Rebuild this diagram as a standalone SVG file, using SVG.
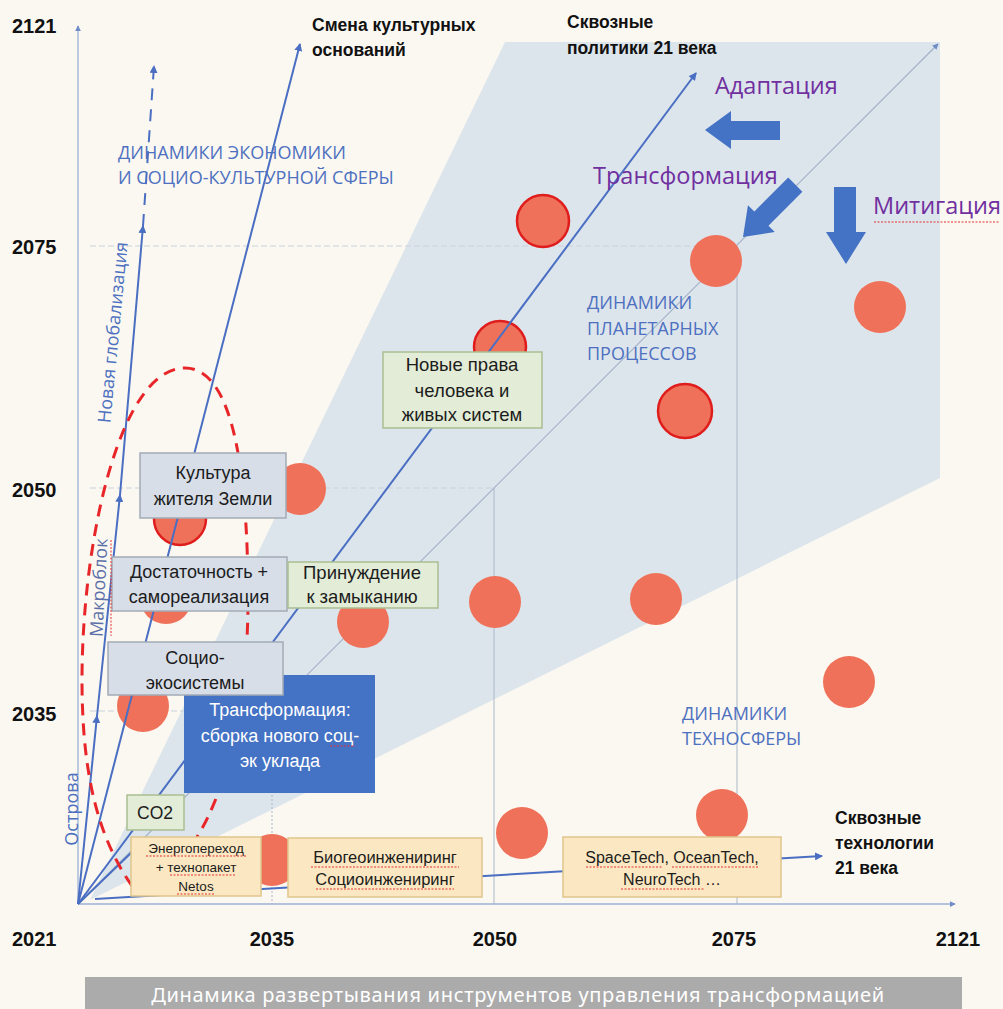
<svg xmlns="http://www.w3.org/2000/svg" width="1003" height="1009" viewBox="0 0 1003 1009">
  <style>
    .bg { fill: #fbf8f1; }
    .zone { fill: #dde5ec; }
    .axis { stroke: #9db1d6; stroke-width: 1.3; fill: none; }
    .grid { stroke: #c9d2dc; stroke-width: 1.2; fill: none; }
    .gridv { stroke: #aab8cc; stroke-width: 1; fill: none; }
    .diag { stroke: #a3b2c8; stroke-width: 1.2; fill: none; }
    .flow { stroke: #4a6ec2; stroke-width: 2; fill: none; }
    .loop { stroke: #e8262a; stroke-width: 3; fill: none; stroke-dasharray: 12 8; }
    .dot { fill: #ef7159; }
    .dot-ring { fill: #ef7159; stroke: #e01d1d; stroke-width: 2.5; }
    .box-grey { fill: #d7dee8; stroke: #a3abb5; stroke-width: 1.5; }
    .box-green { fill: #e3ecd7; stroke: #a9be91; stroke-width: 1.5; }
    .box-yellow { fill: #fbe8c2; stroke: #dfc58c; stroke-width: 1.5; }
    .box-blue { fill: #4472c4; }
    .big-arrow { fill: #4472c4; }
    .t { font-family: "Liberation Sans", Arial, sans-serif; fill: #1c1c1c; }
    .tw { font-family: "Liberation Sans", Arial, sans-serif; fill: #ffffff; }
    .tb { font-family: "Liberation Sans", Arial, sans-serif; font-weight: bold; font-size: 17.5px; fill: #111; }
    .year { font-family: "Liberation Sans", Arial, sans-serif; font-weight: bold; font-size: 20px; fill: #111; }
    .zone-label { font-family: "Open Sans", "Liberation Sans", sans-serif; font-size: 18px; fill: #4d70c0; }
    .mode { font-family: "Open Sans", "Liberation Sans", sans-serif; font-size: 23.5px; fill: #7030a0; }
    .spell { stroke: #e03030; stroke-width: 1; fill: none; stroke-dasharray: 2 1.5; }
  </style>
  <defs>
    <marker id="tip" viewBox="0 0 8 8" refX="7" refY="4" markerWidth="8" markerHeight="8" markerUnits="userSpaceOnUse" orient="auto">
      <path d="M0,0 L8,4 L0,8 z" fill="#4a6ec2"/>
    </marker>
    <marker id="tip-axis" viewBox="0 0 8 8" refX="7" refY="4" markerWidth="6" markerHeight="6" markerUnits="userSpaceOnUse" orient="auto">
      <path d="M0,0 L8,4 L0,8 z" fill="#6f8cc8"/>
    </marker>
  </defs>

  <!-- page -->
  <rect class="bg" x="0" y="0" width="1003" height="1009"/>

  <!-- planetary processes zone -->
  <polygon class="zone" points="90,900 505,42 940,42 940,478"/>

  <!-- grid guides -->
  <g id="grid">
    <line class="grid" x1="90" y1="246" x2="737" y2="246" stroke-dasharray="6 3"/>
    <line class="grid" x1="90" y1="488" x2="494" y2="488" stroke-dasharray="6 3"/>
    <line class="grid" x1="90" y1="711" x2="272" y2="711" stroke-dasharray="6 3"/>
    <line class="gridv" x1="272" y1="711" x2="272" y2="904" stroke-dasharray="2 2"/>
    <line class="gridv" x1="494" y1="488" x2="494" y2="904"/>
    <line class="gridv" x1="737" y1="246" x2="737" y2="904"/>
  </g>

  <!-- axes -->
  <g id="axes">
    <line class="axis" x1="78" y1="904" x2="78" y2="26" marker-end="url(#tip-axis)"/>
    <line class="axis" x1="78" y1="904" x2="955" y2="904" marker-end="url(#tip-axis)"/>
    <line class="diag" x1="78" y1="904" x2="938" y2="44" marker-end="url(#tip-axis)"/>
  </g>

  <!-- year ticks -->
  <g id="years">
    <text class="year" x="12" y="33">2121</text>
    <text class="year" x="12" y="254">2075</text>
    <text class="year" x="12" y="497">2050</text>
    <text class="year" x="12" y="721">2035</text>
    <text class="year" x="12" y="946">2021</text>
    <text class="year" x="272" y="946" text-anchor="middle">2035</text>
    <text class="year" x="495" y="946" text-anchor="middle">2050</text>
    <text class="year" x="734" y="946" text-anchor="middle">2075</text>
    <text class="year" x="958" y="946" text-anchor="middle">2121</text>
  </g>

  <!-- event circles -->
  <g id="events">
    <circle class="dot-ring" cx="543" cy="221" r="26"/>
    <circle class="dot" cx="716" cy="261" r="26"/>
    <circle class="dot" cx="880" cy="307" r="26"/>
    <circle class="dot-ring" cx="500" cy="347" r="26"/>
    <circle class="dot-ring" cx="685" cy="411" r="27"/>
    <circle class="dot" cx="300" cy="489" r="26"/>
    <circle class="dot-ring" cx="180" cy="519" r="26"/>
    <circle class="dot" cx="166" cy="598" r="26"/>
    <circle class="dot" cx="363" cy="622" r="26"/>
    <circle class="dot" cx="495" cy="602" r="26"/>
    <circle class="dot" cx="656" cy="599" r="26"/>
    <circle class="dot" cx="849" cy="682" r="26"/>
    <circle class="dot" cx="143" cy="706" r="26"/>
    <circle class="dot" cx="522" cy="833" r="26"/>
    <circle class="dot" cx="722" cy="815" r="26"/>
    <circle class="dot" cx="272" cy="860" r="26"/>
  </g>

  <!-- trajectories -->
  <g id="connectors">
    <!-- new globalisation chain -->
    <line class="flow" x1="78" y1="904" x2="97" y2="716" marker-end="url(#tip)"/>
    <line class="flow" x1="97" y1="716" x2="120" y2="495" marker-end="url(#tip)"/>
    <line class="flow" x1="120" y1="495" x2="143" y2="226" marker-end="url(#tip)"/>
    <line class="flow" x1="143" y1="226" x2="154" y2="66" stroke-width="3" stroke-dasharray="12 9" marker-end="url(#tip)"/>
    <!-- change of cultural foundations -->
    <line class="flow" x1="78" y1="904" x2="300" y2="44" marker-end="url(#tip)"/>
    <!-- cross-cutting policies -->
    <line class="flow" x1="78" y1="904" x2="696" y2="73" marker-end="url(#tip)"/>
    <!-- energy transition -->
    <line class="flow" x1="78" y1="904" x2="132" y2="852"/>
    <!-- cross-cutting technologies -->
    <line class="flow" x1="95" y1="899" x2="822" y2="856" marker-end="url(#tip)"/>
    <!-- sufficiency loop -->
    <path class="loop" d="M132,886 C100,840 82,780 82,680 C82,540 120,368 185,368 C235,368 248,480 248,600 C248,700 228,790 195,840"/>
  </g>

  <!-- boxes -->
  <g id="node-culture">
    <rect class="box-grey" x="140" y="453" width="146" height="65"/>
    <text class="t" font-size="18" text-anchor="middle" x="213" y="479">Культура</text>
    <text class="t" font-size="18" text-anchor="middle" x="213" y="505">жителя Земли</text>
  </g>
  <g id="node-sufficiency">
    <rect class="box-grey" x="112" y="557" width="175" height="54"/>
    <text class="t" font-size="18" text-anchor="middle" x="199" y="578">Достаточность +</text>
    <text class="t" font-size="18" text-anchor="middle" x="199" y="603">самореализация</text>
  </g>
  <g id="node-transformation">
    <rect class="box-blue" x="184" y="675" width="191" height="118"/>
    <text class="tw" font-size="18" text-anchor="middle" x="280" y="716">Трансформация:</text>
    <text class="tw" font-size="18" text-anchor="middle" x="280" y="742">сборка нового соц-</text>
    <text class="tw" font-size="18" text-anchor="middle" x="280" y="767">эк уклада</text>
  </g>
  <g id="node-socioeco">
    <rect class="box-grey" x="108" y="642" width="175" height="53"/>
    <text class="t" font-size="18" text-anchor="middle" x="195" y="664">Социо-</text>
    <text class="t" font-size="18" text-anchor="middle" x="195" y="689">экосистемы</text>
  </g>
  <g id="node-closure">
    <rect class="box-green" x="288" y="562" width="150" height="46"/>
    <text class="t" font-size="18.5" text-anchor="middle" x="362" y="579">Принуждение</text>
    <text class="t" font-size="18.5" text-anchor="middle" x="362" y="603">к замыканию</text>
  </g>
  <g id="node-rights">
    <rect class="box-green" x="383" y="352" width="159" height="76"/>
    <text class="t" font-size="18.5" text-anchor="middle" x="462" y="371">Новые права</text>
    <text class="t" font-size="18.5" text-anchor="middle" x="462" y="397">человека и</text>
    <text class="t" font-size="18.5" text-anchor="middle" x="462" y="421">живых систем</text>
  </g>
  <g id="node-co2">
    <rect class="box-green" x="127" y="795" width="57" height="35"/>
    <text class="t" font-size="17.5" text-anchor="middle" x="155" y="819">CO2</text>
  </g>
  <g id="node-energy">
    <rect class="box-yellow" x="131" y="837" width="130" height="59"/>
    <text class="t" font-size="13.5" text-anchor="middle" x="196" y="853">Энергопереход</text>
    <text class="t" font-size="13.5" text-anchor="middle" x="196" y="872">+ технопакет</text>
    <text class="t" font-size="13.5" text-anchor="middle" x="196" y="891">Netos</text>
  </g>
  <g id="node-bioengineering">
    <rect class="box-yellow" x="288" y="838" width="194" height="59"/>
    <text class="t" font-size="16.5" text-anchor="middle" x="385" y="863">Биогеоинжениринг</text>
    <text class="t" font-size="16.5" text-anchor="middle" x="385" y="885">Социоинжениринг</text>
  </g>
  <g id="node-deeptech">
    <rect class="box-yellow" x="563" y="837" width="218" height="60"/>
    <text class="t" font-size="16" text-anchor="middle" x="672" y="863">SpaceTech, OceanTech,</text>
    <text class="t" font-size="16" text-anchor="middle" x="672" y="885">NeuroTech …</text>
  </g>

  <!-- spelling marks under the words -->
  <g id="spell-marks">
    <line class="spell" x1="146" y1="856" x2="246" y2="856"/>
    <line class="spell" x1="170" y1="875" x2="236" y2="875"/>
    <line class="spell" x1="177" y1="894" x2="215" y2="894"/>
    <line class="spell" x1="311" y1="867" x2="459" y2="867"/>
    <line class="spell" x1="316" y1="889" x2="454" y2="889"/>
    <line class="spell" x1="586" y1="867" x2="662" y2="867"/>
    <line class="spell" x1="672" y1="867" x2="758" y2="867"/>
    <line class="spell" x1="621" y1="889" x2="704" y2="889"/>
    <line class="spell" x1="330" y1="746" x2="355" y2="746"/>
    <line class="spell" x1="874" y1="222" x2="1000" y2="222"/>
    <line class="spell" x1="111" y1="540" x2="111" y2="636"/>
  </g>

  <!-- direction arrows -->
  <g id="mode-arrows">
    <polygon class="big-arrow" points="705,130 731,111 731,121 780,121 780,140 731,140 731,149"/>
    <polygon class="big-arrow" transform="translate(743,237) rotate(-45)" points="0,0 26,-19 26,-10 74,-10 74,10 26,10 26,19"/>
    <polygon class="big-arrow" points="834,187 856,187 856,232 866,232 846,264 826,232 834,232"/>
  </g>

  <!-- labels -->
  <g id="labels">
    <text class="tb" x="312" y="31">Смена культурных</text>
    <text class="tb" x="312" y="56">оснований</text>
    <text class="tb" x="567" y="28">Сквозные</text>
    <text class="tb" x="567" y="54">политики 21 века</text>
    <text class="tb" x="835" y="824">Сквозные</text>
    <text class="tb" x="835" y="849">технологии</text>
    <text class="tb" x="835" y="874">21 века</text>

    <text class="zone-label" x="118" y="159">ДИНАМИКИ ЭКОНОМИКИ</text>
    <text class="zone-label" x="118" y="184">И СОЦИО-КУЛЬТУРНОЙ СФЕРЫ</text>
    <text class="zone-label" x="587" y="309">ДИНАМИКИ</text>
    <text class="zone-label" x="587" y="335">ПЛАНЕТАРНЫХ</text>
    <text class="zone-label" x="587" y="360">ПРОЦЕССОВ</text>
    <text class="zone-label" x="682" y="720">ДИНАМИКИ</text>
    <text class="zone-label" x="682" y="745">ТЕХНОСФЕРЫ</text>

    <text class="mode" x="715" y="94">Адаптация</text>
    <text class="mode" x="593" y="184">Трансформация</text>
    <text class="mode" x="873" y="214">Митигация</text>

    <text class="zone-label" font-size="17" text-anchor="middle" transform="translate(119,333) rotate(-84.5)">Новая глобализация</text>
    <text class="zone-label" font-size="16.5" text-anchor="middle" style="fill:#5b6fa8" transform="translate(105,588) rotate(-87)">Макроблок</text>
    <text class="zone-label" font-size="15.5" text-anchor="middle" transform="translate(78,809) rotate(-90)">Острова</text>
  </g>

  <!-- caption -->
  <g id="caption">
    <rect x="85" y="977" width="877" height="32" fill="#ababab"/>
    <text x="518" y="1002" text-anchor="middle" font-family="'Noto Sans', 'Open Sans', sans-serif" font-size="20" letter-spacing="0.7" fill="#ffffff">Динамика развертывания инструментов управления трансформацией</text>
  </g>
</svg>
